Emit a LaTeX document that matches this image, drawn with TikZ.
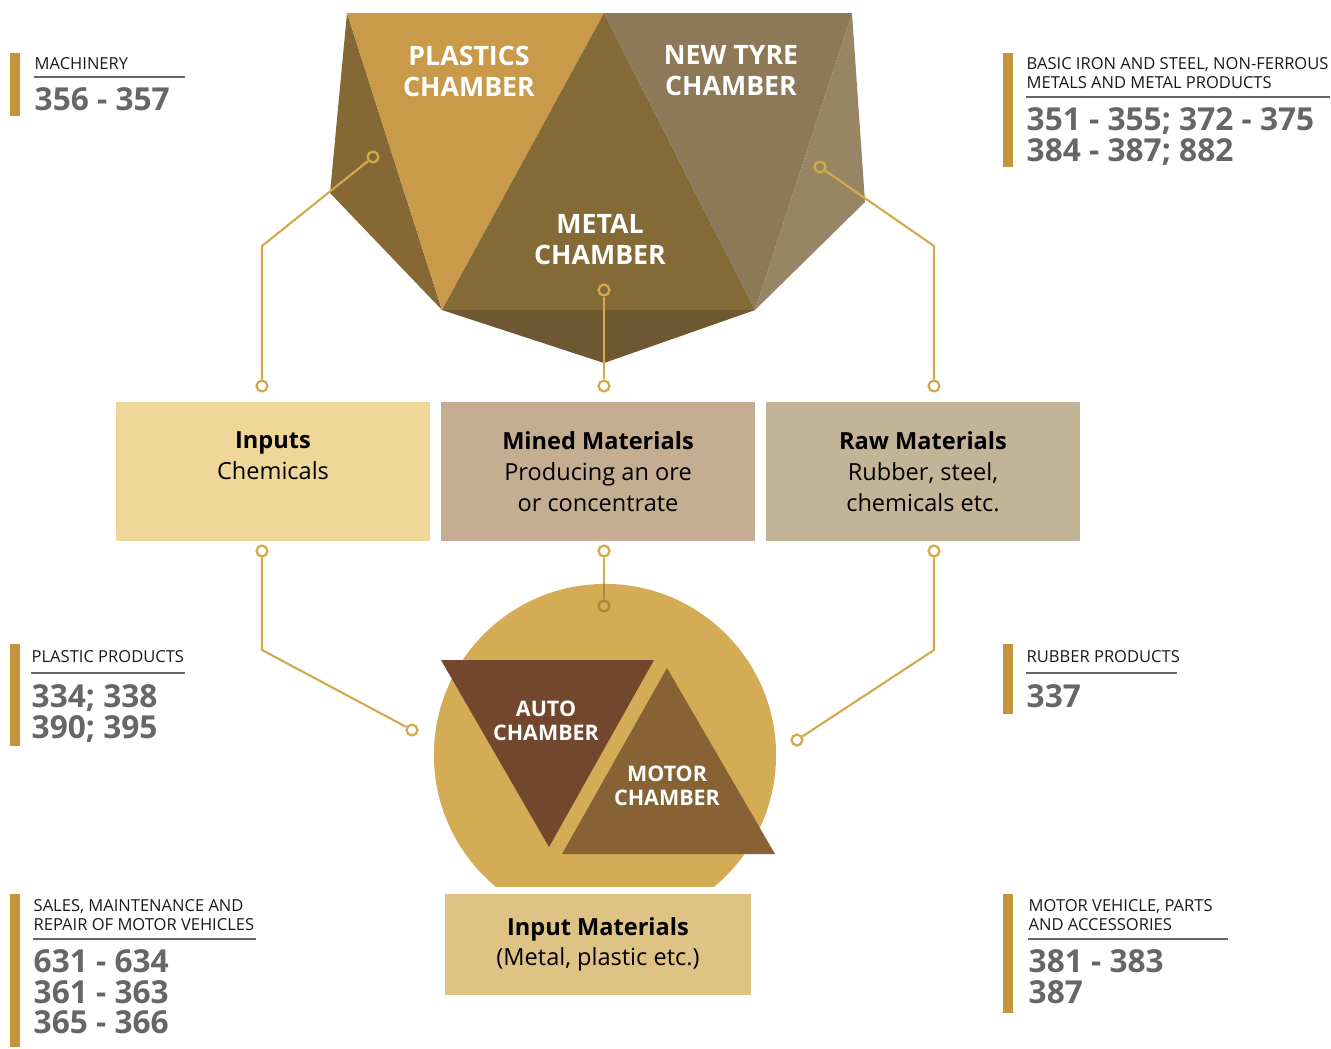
\documentclass[tikz,border=0pt]{standalone}
\usepackage{fontspec}
\setmainfont{Open Sans}
\definecolor{plast}{HTML}{C89A4A}
\definecolor{lface}{HTML}{866834}
\definecolor{metal}{HTML}{836A37}
\definecolor{tyre}{HTML}{8D7858}
\definecolor{rface}{HTML}{988563}
\definecolor{bface}{HTML}{6E5832}
\definecolor{lgold}{HTML}{D4A94C}
\definecolor{boxa}{HTML}{EFD699}
\definecolor{boxb}{HTML}{C5AD92}
\definecolor{boxc}{HTML}{C4B497}
\definecolor{boxd}{HTML}{DFC385}
\definecolor{disc}{HTML}{D4AC55}
\definecolor{autobrown}{HTML}{72472D}
\definecolor{motorbrown}{HTML}{866234}
\definecolor{sidebar}{HTML}{C4963C}
\definecolor{numgray}{HTML}{666666}
\begin{document}
\begin{tikzpicture}[x=0.01cm,y=-0.01cm,
          dot/.style={circle,draw=lgold,line width=0.65pt,inner sep=0pt,minimum size=3.1pt},
          link/.style={draw=lgold,line width=0.6pt},
          cham/.style={text=white,align=center,inner sep=0pt,font=\bfseries\fontsize{7.6}{8.8}\selectfont},
          chams/.style={cham,font=\bfseries\fontsize{6.1}{6.9}\selectfont},
          mat/.style={minimum width=3.14cm,minimum height=1.39cm,inner sep=0pt},
          mattxt/.style={anchor=north,align=center,inner sep=0pt,font=\fontsize{6.7}{8.8}\selectfont},
          cat/.style={anchor=north west,align=left,inner sep=0pt,text=black!90,font=\fontsize{4.7}{5.4}\selectfont},
          code/.style={anchor=north west,align=left,inner sep=0pt,text=numgray,font=\bfseries\fontsize{9}{8.7}\selectfont},
          rule/.style={draw=numgray,line width=0.55pt}
          ]
          \useasboundingbox (0,0) rectangle (1331,1048);
          \coordinate (tl) at (347,13);
          \coordinate (tm) at (604,13);
          \coordinate (tr) at (852,13);
          \coordinate (lv) at (330,193);
          \coordinate (rv) at (865,202);
          \coordinate (bl) at (442,310);
          \coordinate (br) at (755,310);
          \coordinate (bm) at (604,363);
          \fill[lface] (tl) -- (lv) -- (bl) -- cycle;
          \fill[plast] (tl) -- (tm) -- (bl) -- cycle;
          \fill[metal] (tm) -- (br) -- (bl) -- cycle;
          \fill[tyre] (tm) -- (tr) -- (br) -- cycle;
          \fill[rface] (tr) -- (rv) -- (br) -- cycle;
          \fill[bface] (bl) -- (br) -- (bm) -- cycle;
          \node[cham] (plastics) at (469,71) {PLASTICS\\CHAMBER};
          \node[cham] (tyres) at (731,71) {NEW TYRE\\CHAMBER};
          \node[cham] (metals) at (600,240) {METAL\\CHAMBER};

          \node[mat,fill=boxa] (inputs) at (273,471.5) {};
          \node[mat,fill=boxb] (mined) at (598,471.5) {};
          \node[mat,fill=boxc] (raw) at (923,471.5) {};
          \node[mattxt] (inputstxt) at (273,431) {\textbf{Inputs}\\Chemicals};
          \node[mattxt] (minedtxt) at (598,431) {\textbf{Mined Materials}\\Producing an ore\\or concentrate};
          \node[mattxt] (rawtxt) at (923,431) {\textbf{Raw Materials}\\Rubber, steel,\\chemicals etc.};

          \node[dot] (p1) at (373,157) {};
          \node[dot] (p2) at (604,290) {};
          \node[dot] (p3) at (820,167) {};
          \node[dot] (a1) at (262,386) {};
          \node[dot] (a2) at (604,386) {};
          \node[dot] (a3) at (934,386) {};
          \node[dot] (b1) at (262,551) {};
          \node[dot] (b2) at (604,551) {};
          \node[dot] (b3) at (934,551) {};
          \node[dot] (q1) at (412,730) {};
          \node[dot] (q3) at (797,740) {};
          \draw[link] (p1) -- (262,246) -- (a1);
          \draw[link] (p2) -- (a2);
          \draw[link] (p3) -- (934,246) -- (a3);
          \draw[link] (b1) -- (262,650) -- (q1);
          \draw[link] (b3) -- (934,650) -- (q3);

          \begin{scope}
            \clip (420,570) rectangle (790,886);
            \fill[disc] (605,755) circle (1.71cm);
          \end{scope}
          \coordinate (disctop) at (604,584);
          \node[dot,draw=lgold!80!black] (q2) at (604,606) {};
          \draw[link] (b2) -- (disctop);
          \draw[link,draw=lgold!80!black] (disctop) -- (q2);
          \fill[autobrown] (441,660) -- (654,660) -- (549,847) -- cycle;
          \fill[motorbrown] (667,668) -- (775,854) -- (562,854) -- cycle;
          \node[chams] (autoch) at (546,721) {AUTO\\CHAMBER};
          \node[chams] (motorch) at (667,786) {MOTOR\\CHAMBER};
          \node[minimum width=3.05cm,minimum height=1.01cm,fill=boxd,align=center,inner sep=0pt,
                font=\fontsize{6.7}{8.6}\selectfont] (input) at (598,944.5) {\textbf{Input Materials}\\(Metal, plastic etc.)};

          \fill[sidebar] (10,53) rectangle (20,116);
          \node[cat] (mach) at (34,57) {MACHINERY};
          \draw[rule] (34,77) -- (185,77);
          \node[code] (machcode) at (34,87) {356 - 357};

          \fill[sidebar] (1003,53) rectangle (1013,167);
          \node[cat] (iron) at (1026,57) {BASIC IRON AND STEEL, NON-FERROUS\\METALS AND METAL PRODUCTS};
          \draw[rule] (1026,97) -- (1330,97);
          \node[code] (ironcode) at (1026,107) {351 - 355; 372 - 375\\384 - 387; 882};

          \fill[sidebar] (10,644) rectangle (20,746);
          \node[cat] (plprod) at (31,650) {PLASTIC PRODUCTS};
          \draw[rule] (31,673) -- (185,673);
          \node[code] (plcode) at (31,684) {334; 338\\390; 395};

          \fill[sidebar] (1003,644) rectangle (1013,714);
          \node[cat] (rubber) at (1026,650) {RUBBER PRODUCTS};
          \draw[rule] (1026,673) -- (1177,673);
          \node[code] (rubcode) at (1026,684) {337};

          \fill[sidebar] (10,894) rectangle (20,1047);
          \node[cat] (sales) at (33,899) {SALES, MAINTENANCE AND\\REPAIR OF MOTOR VEHICLES};
          \draw[rule] (33,939) -- (256,939);
          \node[code] (salescode) at (33,949) {631 - 634\\361 - 363\\365 - 366};

          \fill[sidebar] (1003,894) rectangle (1013,1013);
          \node[cat] (vehicle) at (1028,899) {MOTOR VEHICLE, PARTS\\AND ACCESSORIES};
          \draw[rule] (1028,939) -- (1228,939);
          \node[code] (vehcode) at (1028,949) {381 - 383\\387};
        \end{tikzpicture}
\end{document}
